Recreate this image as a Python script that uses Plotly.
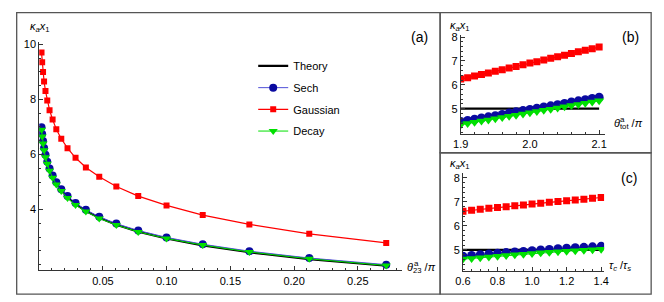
import plotly.graph_objects as go

# ---------------- data ----------------
# panel (a)
theta23 = [0.0018, 0.0023, 0.0030, 0.0038, 0.0049, 0.0063, 0.0081, 0.0105, 0.0134, 0.0173,
           0.0222, 0.0285, 0.0366, 0.0471, 0.0605, 0.0777, 0.0999, 0.1283, 0.1649, 0.2119, 0.2723]
a_gauss = [9.70, 9.35, 9.00, 8.65, 8.31, 7.96, 7.61, 7.27, 6.92, 6.57, 6.23,
           5.88, 5.53, 5.19, 4.84, 4.49, 4.15, 3.80, 3.46, 3.12, 2.79]
a_sech = [6.99, 6.74, 6.49, 6.24, 5.99, 5.74, 5.49, 5.24, 4.99, 4.74, 4.49,
          4.24, 3.99, 3.74, 3.49, 3.24, 2.99, 2.74, 2.49, 2.24, 2.00]
a_decay = [6.90, 6.65, 6.40, 6.15, 5.90, 5.66, 5.41, 5.16, 4.91, 4.67, 4.42,
           4.17, 3.93, 3.68, 3.44, 3.19, 2.95, 2.71, 2.46, 2.21, 1.97]
a_theory = [6.95, 6.70, 6.45, 6.20, 5.95, 5.70, 5.45, 5.20, 4.95, 4.70, 4.45,
            4.20, 3.95, 3.70, 3.45, 3.20, 2.95, 2.70, 2.45, 2.20, 1.96]

# panel (b)
theta_tot = [1.90, 1.91, 1.92, 1.93, 1.94, 1.95, 1.96, 1.97, 1.98, 1.99, 2.00,
             2.01, 2.02, 2.03, 2.04, 2.05, 2.06, 2.07, 2.08, 2.09, 2.10]
b_gauss = [6.24, 6.30, 6.37, 6.43, 6.50, 6.57, 6.63, 6.70, 6.77, 6.84, 6.91,
           6.97, 7.04, 7.11, 7.18, 7.24, 7.31, 7.38, 7.45, 7.51, 7.58]
b_sech = [4.46, 4.51, 4.56, 4.61, 4.66, 4.71, 4.76, 4.82, 4.87, 4.92, 4.97,
          5.02, 5.07, 5.12, 5.17, 5.22, 5.28, 5.33, 5.38, 5.43, 5.48]
b_decay = [4.33, 4.38, 4.43, 4.48, 4.53, 4.58, 4.63, 4.68, 4.73, 4.78, 4.83,
           4.88, 4.93, 4.98, 5.03, 5.08, 5.13, 5.18, 5.23, 5.28, 5.33]
b_theory_x = [1.90, 2.10]
b_theory = [5.0, 5.0]

# panel (c)
tau_ratio = [0.60, 0.65, 0.70, 0.75, 0.80, 0.85, 0.90, 0.95, 1.00,
             1.05, 1.10, 1.15, 1.20, 1.25, 1.30, 1.35, 1.40]
c_gauss = [6.61, 6.65, 6.69, 6.73, 6.76, 6.80, 6.84, 6.87, 6.91,
           6.94, 6.98, 7.01, 7.05, 7.08, 7.11, 7.15, 7.18]
c_sech = [4.74, 4.77, 4.80, 4.83, 4.86, 4.89, 4.92, 4.94, 4.97,
          5.00, 5.02, 5.05, 5.07, 5.09, 5.11, 5.13, 5.15]
c_decay = [4.62, 4.65, 4.68, 4.71, 4.74, 4.77, 4.80, 4.82, 4.85,
           4.88, 4.90, 4.93, 4.95, 4.97, 4.99, 5.01, 5.03]
c_theory_x = [0.60, 1.40]
c_theory = [5.0, 5.0]

# tick labels
a_xticks = [0.05, 0.10, 0.15, 0.20, 0.25]
a_xticktext = ["0.05", "0.10", "0.15", "0.20", "0.25"]
a_yticks = [4, 6, 8, 10]
b_xticks = [1.9, 2.0, 2.1]
b_xticktext = ["1.9", "2.0", "2.1"]
bc_yticks = [5, 6, 7, 8]
c_xticks = [0.6, 0.8, 1.0, 1.2, 1.4]
c_xticktext = ["0.6", "0.8", "1.0", "1.2", "1.4"]

# ---------------- styling ----------------
PAGE_W, PAGE_H = 664, 302
OFF = 8  # default body margin of the html page
W, H = PAGE_W - OFF, PAGE_H - OFF
FONT = "Liberation Sans, Arial, sans-serif"
BLUE = "#0a0aa0"
BLUE_LINE = "#5050d8"
RED = "#ff0000"
GREEN = "#00e000"
AXC = "#333333"


def px(x):
    return (x - OFF) / W


def py(y):
    return 1 - (y - OFF) / H


fig = go.Figure()


def add_panel(xs, theory_x, theory, sech, gauss, decay, xa, ya, legend, msz):
    fig.add_trace(go.Scatter(x=theory_x, y=theory, mode="lines", name="Theory",
                             line=dict(color="black", width=2.2),
                             xaxis=xa, yaxis=ya, showlegend=legend, legendgroup="t"))
    fig.add_trace(go.Scatter(x=xs, y=sech, mode="lines+markers", name="Sech",
                             line=dict(color=BLUE_LINE, width=1),
                             marker=dict(symbol="circle", color=BLUE, size=msz[0]),
                             xaxis=xa, yaxis=ya, showlegend=legend, legendgroup="s"))
    fig.add_trace(go.Scatter(x=xs, y=gauss, mode="lines+markers", name="Gaussian",
                             line=dict(color=RED, width=1.2),
                             marker=dict(symbol="square", color=RED, size=msz[1]),
                             xaxis=xa, yaxis=ya, showlegend=legend, legendgroup="g"))
    fig.add_trace(go.Scatter(x=xs, y=decay, mode="lines+markers", name="Decay",
                             line=dict(color=GREEN, width=1),
                             marker=dict(symbol="triangle-down", color=GREEN, size=msz[2]),
                             xaxis=xa, yaxis=ya, showlegend=legend, legendgroup="d"))


add_panel(theta23, theta23, a_theory, a_sech, a_gauss, a_decay, "x", "y", True, (8, 6, 8))
add_panel(theta_tot, b_theory_x, b_theory, b_sech, b_gauss, b_decay, "x2", "y2", False, (9, 7, 9))
add_panel(tau_ratio, c_theory_x, c_theory, c_sech, c_gauss, c_decay, "x3", "y3", False, (9, 7, 9))

tickfont = dict(family=FONT, size=11, color="black")
common = dict(showline=True, linecolor=AXC, linewidth=1, ticks="inside", ticklen=4,
              tickwidth=1, tickcolor=AXC, showgrid=False, zeroline=False,
              tickfont=tickfont, mirror=False, fixedrange=True)


def minor(step):
    return dict(dtick=step, ticks="inside", ticklen=2.2, tickcolor=AXC, tickwidth=1, showgrid=False)


fig.update_layout(
    width=W, height=H,
    margin=dict(l=0, r=0, t=0, b=0),
    paper_bgcolor="white", plot_bgcolor="white",
    font=dict(family=FONT, size=11, color="black"),
    xaxis=dict(domain=[px(31.7), px(401.7)], range=[0, 0.2846], anchor="y",
               tickmode="array", tickvals=a_xticks, ticktext=a_xticktext,
               minor=dict(minor(0.01), tick0=0), **common),
    yaxis=dict(domain=[py(270), py(38)], range=[1.79, 10.1], anchor="x",
               tickmode="array", tickvals=a_yticks,
               minor=dict(minor(0.5), tick0=0), **common),
    xaxis2=dict(domain=[px(461.7), px(609)], range=[1.9, 2.1086], anchor="y2",
                tickmode="array", tickvals=b_xticks, ticktext=b_xticktext,
                minor=dict(minor(0.02), tick0=1.9), **common),
    yaxis2=dict(domain=[py(131.7), py(31.7)], range=[3.94, 8.07], anchor="x2",
                tickmode="array", tickvals=bc_yticks,
                minor=dict(minor(0.2), tick0=0), **common),
    xaxis3=dict(domain=[px(464), px(608)], range=[0.6, 1.417], anchor="y3",
                tickmode="array", tickvals=c_xticks, ticktext=c_xticktext,
                minor=dict(minor(0.05), tick0=0.6), **common),
    yaxis3=dict(domain=[py(270.7), py(171.7)], range=[4.12, 8.18], anchor="x3",
                tickmode="array", tickvals=bc_yticks,
                minor=dict(minor(0.2), tick0=0), **common),
    legend=dict(x=px(250), y=py(48), xanchor="left", yanchor="top",
                bgcolor="rgba(0,0,0,0)", font=dict(family=FONT, size=11),
                tracegroupgap=2.7, itemwidth=30),
    showlegend=True,
)

# frames
frame = dict(type="rect", xref="paper", yref="paper", line=dict(color="#555555", width=1.3),
             fillcolor="rgba(0,0,0,0)", layer="above")
fig.add_shape(x0=px(8.7), x1=px(440.7), y0=py(294), y1=py(8.7), **frame)
fig.add_shape(x0=px(440.7), x1=px(656), y0=py(150.7), y1=py(8.7), **frame)
fig.add_shape(x0=px(440.7), x1=px(656), y0=py(294), y1=py(150.7), **frame)

ann_font = dict(family=FONT, size=11, color="black")
sup_font = dict(family=FONT, size=8, color="black")
kx = "<i>κ</i><sub><i>a</i></sub><i>x</i><sub>1</sub>"
anns = [
    dict(text="(a)", x=px(420), y=py(33), font=dict(family=FONT, size=14), xanchor="center"),
    dict(text="(b)", x=px(635), y=py(33), font=dict(family=FONT, size=14), xanchor="center"),
    dict(text="(c)", x=px(633), y=py(176), font=dict(family=FONT, size=14), xanchor="center"),
    dict(text=kx, x=px(20), y=py(23), font=ann_font, xanchor="left"),
    dict(text=kx, x=px(449), y=py(22), font=ann_font, xanchor="left"),
    dict(text=kx, x=px(449), y=py(162), font=ann_font, xanchor="left"),
    dict(text="<i>θ</i><sub>23</sub> /<i>π</i>", x=px(405), y=py(268), font=ann_font, xanchor="left"),
    dict(text="a", x=px(411.5), y=py(263), font=sup_font, xanchor="left"),
    dict(text="<i>θ</i><sub>tot</sub> /<i>π</i>", x=px(616), y=py(122), font=ann_font, xanchor="left"),
    dict(text="a", x=px(622.5), y=py(117), font=sup_font, xanchor="left"),
    dict(text="<i>τ<sub>c</sub></i> /<i>τ<sub>s</sub></i>", x=px(611), y=py(266), font=ann_font, xanchor="left"),
]
for a in anns:
    fig.add_annotation(xref="paper", yref="paper", showarrow=False, yanchor="middle", **a)

fig.write_html("out.html")
